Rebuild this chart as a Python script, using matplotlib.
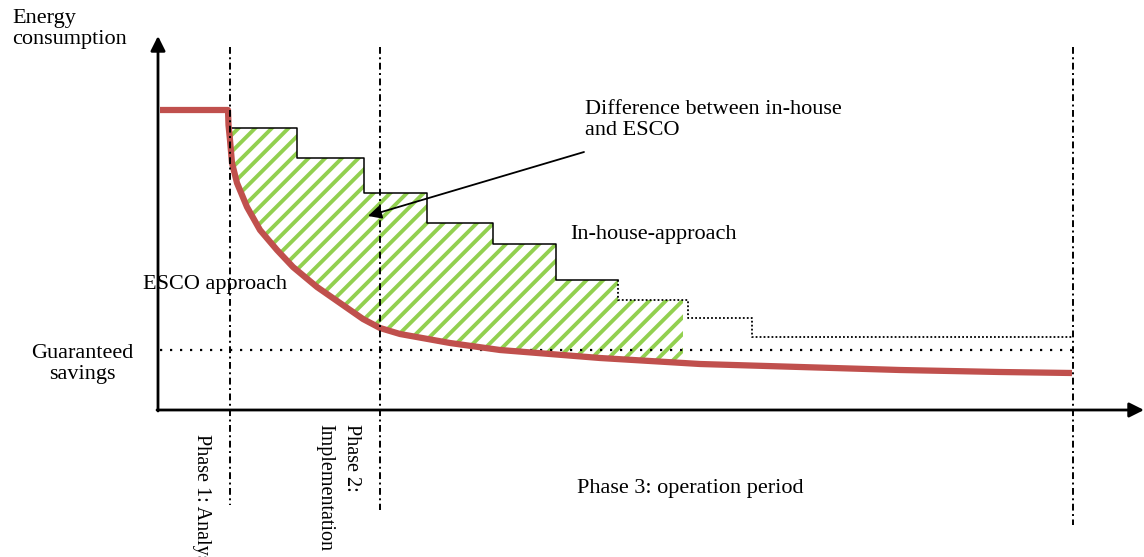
import numpy as np
import matplotlib.pyplot as plt
from matplotlib.patches import Polygon

# -----------------------------
# DATA (schematic units: x = time, y = energy)
# -----------------------------
ESCO_X = [160, 228, 228.5, 230, 232, 237, 247, 260, 277, 293, 317, 340, 363, 380,
          400, 450, 500, 600, 700, 800, 900, 1000, 1072]
ESCO_Y = [110, 110, 125, 140, 163, 183, 207, 230, 250, 267, 287, 303, 319, 328,
          334, 343, 350, 358, 364, 367, 370, 372, 373]

STEP_EDGES = [228, 297, 364, 427, 493, 556, 618, 688, 752, 1072]
STEP_LEVELS = [128, 158, 193, 223, 244, 280, 300, 318, 337]
N_SOLID = 6          # first steps drawn solid, the rest dotted

HATCH_END = 683
GUARANTEED = 350
PHASE_X = [230, 380, 1073]

RED = "#C0504D"
GREEN = "#92D050"

plt.rcParams["font.family"] = ["Liberation Serif", "DejaVu Serif"]
plt.rcParams["hatch.linewidth"] = 2.8

fig = plt.figure(figsize=(11.44, 5.57), dpi=100)
ax = fig.add_axes([0, 0, 1, 1])
ax.set_xlim(0, 1144)
ax.set_ylim(557, 0)
ax.axis("off")


def step_path(edges, levels):
    xs, ys = [], []
    for i, lv in enumerate(levels):
        xs += [edges[i], edges[i + 1]]
        ys += [lv, lv]
    return np.array(xs, float), np.array(ys, float)


sx, sy = step_path(STEP_EDGES, STEP_LEVELS)

# hatched difference area
mask = sx <= HATCH_END
ux = np.append(sx[mask], HATCH_END)
uy = np.append(sy[mask], sy[~mask][0])
ux[0] = ESCO_X[2]
lx = np.linspace(HATCH_END, ESCO_X[2], 120)
ly = np.interp(lx, ESCO_X, ESCO_Y)
poly = np.column_stack([np.concatenate([ux, lx]), np.concatenate([uy, ly])])
ax.add_patch(Polygon(poly, closed=True, facecolor="none", edgecolor=GREEN,
                     hatch="//", lw=0, zorder=2))

# in-house steps
k = 2 * N_SOLID
ax.plot(sx[:k], sy[:k], color="black", lw=1.1, zorder=3)
ax.plot(sx[k - 1:], sy[k - 1:], color="black", lw=1.3, ls=(0, (1, 1.2)), zorder=3)

# guaranteed savings line
ax.plot([160, PHASE_X[2]], [GUARANTEED, GUARANTEED], color="black", lw=1.6,
        ls=(0, (1, 3.5)), zorder=3)

# ESCO curve
ax.plot(ESCO_X, ESCO_Y, color=RED, lw=4.5, solid_capstyle="butt",
        solid_joinstyle="round", zorder=4)

# phase separators
dashdot = (0, (3.5, 1.8, 1, 1.8))
ax.vlines(PHASE_X[0], 47, 505, color="black", lw=1.4, ls=dashdot, zorder=5)
ax.vlines(PHASE_X[1], 47, 510, color="black", lw=1.4, ls=dashdot, zorder=5)
ax.vlines(PHASE_X[2], 47, 525, color="black", lw=1.4, ls=dashdot, zorder=5)

# axes arrows
ax.annotate("", xy=(158, 36), xytext=(158, 411),
            arrowprops=dict(arrowstyle="-|>", lw=2, color="black", mutation_scale=22,
                            shrinkA=0, shrinkB=0))
ax.annotate("", xy=(1144, 410), xytext=(157, 410),
            arrowprops=dict(arrowstyle="-|>", lw=2, color="black", mutation_scale=22,
                            shrinkA=0, shrinkB=0))

# annotation arrow
ax.annotate("", xy=(368, 216), xytext=(584, 152),
            arrowprops=dict(arrowstyle="-|>", lw=1.3, color="black", mutation_scale=20,
                            shrinkA=0, shrinkB=0))

fs = 16
ax.text(12, 29, "Energy\nconsumption", fontsize=fs, va="center", ha="left", linespacing=1.1)
ax.text(585, 120, "Difference between in-house\nand ESCO", fontsize=fs, va="center",
        ha="left", linespacing=1.15)
ax.text(570, 235, "In-house-approach", fontsize=fs, va="center", ha="left")
ax.text(143, 285, "ESCO approach", fontsize=fs, va="center", ha="left")
ax.text(82, 364, "Guaranteed\nsavings", fontsize=fs, va="center", ha="center",
        linespacing=1.1)
ax.text(577, 488, "Phase 3: operation period", fontsize=fs, va="center", ha="left")

rfs = 14.5
ax.text(201, 434, "Phase 1: Analysis", fontsize=rfs, va="top", ha="center",
        rotation=270)
ax.text(338, 424, "Phase 2:\nImplementation", fontsize=rfs, va="top", ha="center",
        rotation=270, linespacing=1.55, multialignment="left")

fig.savefig("out.png", dpi=100)
